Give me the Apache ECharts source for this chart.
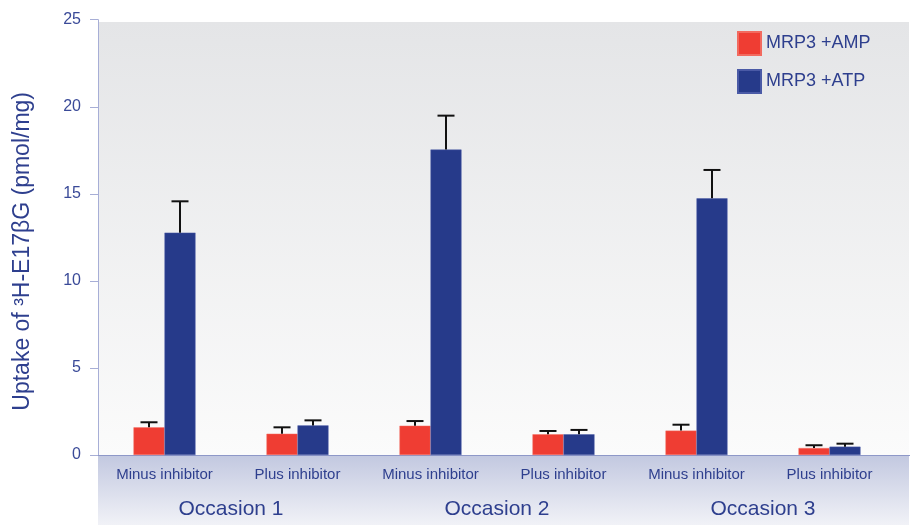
<!DOCTYPE html>
<html>
<head>
<meta charset="utf-8">
<script src="https://cdn.jsdelivr.net/npm/echarts@6/dist/echarts.min.js"></script>
<style>
  html, body { margin: 0; padding: 0; background: #fff; }
  #chart { width: 912px; height: 526px; }
</style>
</head>
<body>
<div id="chart"></div>
<script>
// categories and values
var categories = ['Minus inhibitor', 'Plus inhibitor', 'Minus inhibitor', 'Plus inhibitor', 'Minus inhibitor', 'Plus inhibitor'];
var occasions = ['Occasion 1', 'Occasion 2', 'Occasion 3'];
var ampValues = [1.59, 1.22, 1.68, 1.19, 1.40, 0.40];
var ampErrors = [0.29, 0.37, 0.27, 0.19, 0.34, 0.16];
var atpValues = [12.77, 1.70, 17.54, 1.19, 14.74, 0.48];
var atpErrors = [1.80, 0.29, 1.95, 0.25, 1.63, 0.17];
var yTicks = [0, 5, 10, 15, 20, 25];

var textBlue = '#2e3f8e';
var axisLineColor = '#a7aed6';
var barW = 31;
var font = 'Liberation Sans, Arial, sans-serif';

function errData(vals, errs) {
    return vals.map(function (v, i) { return [i, v, errs[i]]; });
}

// upper error bar, shifted to sit on the bar
function errRenderer(shift) {
    return function (params, api) {
        var idx = api.value(0);
        var v = api.value(1);
        var e = api.value(2);
        var base = api.coord([idx, v]);
        var top = api.coord([idx, v + e]);
        var x = base[0] + shift;
        var cap = 8.5;
        var style = { stroke: '#111', lineWidth: 2 };
        return {
            type: 'group',
            children: [
                { type: 'line', shape: { x1: x, y1: base[1], x2: x, y2: top[1] }, style: style },
                { type: 'line', shape: { x1: x - cap, y1: top[1], x2: x + cap, y2: top[1] }, style: style }
            ]
        };
    };
}

var myChart = echarts.init(document.getElementById('chart'));
var options = {
    animation: false,
    textStyle: { fontFamily: font },
    graphic: [
        {
            type: 'rect', z: -10, silent: true,
            shape: { x: 98, y: 22, width: 811, height: 433 },
            style: {
                fill: new echarts.graphic.LinearGradient(0, 0, 0, 1, [
                    { offset: 0, color: '#e4e5e7' },
                    { offset: 1, color: '#fbfbfb' }
                ])
            }
        },
        {
            type: 'rect', z: -10, silent: true,
            shape: { x: 98, y: 455, width: 811, height: 70 },
            style: {
                fill: new echarts.graphic.LinearGradient(0, 0, 0, 1, [
                    { offset: 0, color: '#c2c8e0' },
                    { offset: 1, color: '#f1f2f7' }
                ])
            }
        },
        {
            type: 'line', z: -5, silent: true,
            shape: { x1: 98, y1: 455.5, x2: 910, y2: 455.5 },
            style: { stroke: '#8e98c8', lineWidth: 1 }
        }
    ],
    legend: {
        orient: 'vertical',
        left: 732,
        top: 26,
        itemWidth: 23,
        itemHeight: 23,
        itemGap: 13,
        icon: 'rect',
        textStyle: { color: textBlue, fontSize: 18, fontFamily: font },
        data: ['MRP3 +AMP', 'MRP3 +ATP']
    },
    grid: {
        left: 98,
        width: 798,
        top: 19.7,
        bottom: 71,
        outerBoundsMode: 'none',
        containLabel: false
    },
    xAxis: [
        {
            type: 'category',
            data: categories,
            axisLine: { show: true, lineStyle: { color: '#8e98c8' } },
            axisTick: { show: false },
            axisLabel: { color: textBlue, fontSize: 15, margin: 12, interval: 0 }
        },
        {
            type: 'category',
            data: occasions,
            position: 'bottom',
            offset: 38,
            axisLine: { show: false },
            axisTick: { show: false },
            axisLabel: { color: textBlue, fontSize: 21, margin: 6, interval: 0 }
        }
    ],
    yAxis: {
        type: 'value',
        min: yTicks[0],
        max: yTicks[yTicks.length - 1],
        interval: 5,
        name: 'Uptake of \u00b3H-E17\u03b2G (pmol/mg)',
        nameLocation: 'middle',
        nameGap: 64,
        nameTextStyle: { color: textBlue, fontSize: 23, padding: [0, 28, 0, 0] },
        axisLine: { show: true, lineStyle: { color: axisLineColor } },
        axisTick: { show: true, length: 8, lineStyle: { color: axisLineColor } },
        axisLabel: { color: '#3a4a98', fontSize: 16, margin: 17 },
        splitLine: { show: false }
    },
    series: [
        {
            name: 'MRP3 +AMP',
            type: 'bar',
            data: ampValues,
            barWidth: barW,
            barGap: '0%',
            itemStyle: { color: '#ef3d33', borderColor: '#f26a5f', borderWidth: 0.5 }
        },
        {
            name: 'MRP3 +ATP',
            type: 'bar',
            data: atpValues,
            barWidth: barW,
            barGap: '0%',
            itemStyle: { color: '#263a8a', borderColor: '#4a5aa6', borderWidth: 0.5 }
        },
        {
            type: 'custom',
            renderItem: errRenderer(-barW / 2),
            data: errData(ampValues, ampErrors),
            z: 5,
            silent: true
        },
        {
            type: 'custom',
            renderItem: errRenderer(barW / 2),
            data: errData(atpValues, atpErrors),
            z: 5,
            silent: true
        }
    ]
};
myChart.setOption(options);
window.addEventListener('resize', function () { myChart.resize(); });
</script>
</body>
</html>
